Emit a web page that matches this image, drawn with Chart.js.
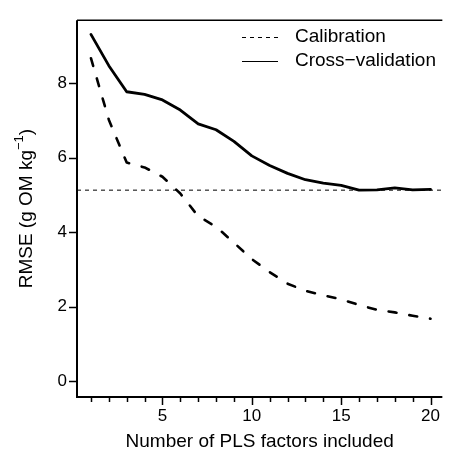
<!DOCTYPE html>
<html>
<head>
<meta charset="utf-8">
<script src="https://cdn.jsdelivr.net/npm/chart.js@4.4.1/dist/chart.umd.min.js"></script>
<style>
html, body { margin: 0; padding: 0; background: #fff; }
#wrap { width: 449px; height: 450px; }
</style>
</head>
<body>
<div id="wrap"><canvas id="rmse"></canvas></div>
<script>
// data
var factors = [1, 2, 3, 4, 5, 6, 7, 8, 9, 10, 11, 12, 13, 14, 15, 16, 17, 18, 19, 20];
var calibration = [8.67, 7.02, 5.87, 5.74, 5.49, 5.04, 4.43, 4.15, 3.72, 3.28, 2.93, 2.62, 2.43, 2.31, 2.20, 2.05, 1.92, 1.85, 1.76, 1.68];
var crossValidation = [9.31, 8.47, 7.77, 7.70, 7.55, 7.28, 6.91, 6.75, 6.44, 6.05, 5.79, 5.58, 5.41, 5.32, 5.26, 5.13, 5.14, 5.19, 5.14, 5.15];
var minRmse = 5.13;
var yTicks = [0, 2, 4, 6, 8];
var xTicks = [5, 10, 15, 20];
var seriesLabels = ['Calibration', 'Cross\u2212validation'];

var FONT = '"Liberation Sans", Arial, Helvetica, sans-serif';

function pts(vals) {
    return factors.map(function (f, i) { return { x: f, y: vals[i] }; });
}

//! frame, ticks, reference line, legend and y title
var decor = {
    id: 'decor',
    beforeDatasetsDraw: function (chart) {
        var c = chart.ctx, a = chart.chartArea;
        var y = chart.scales.y.getPixelForValue(minRmse);
        c.save();
        c.strokeStyle = '#000';
        c.lineWidth = 1;
        c.setLineDash([4, 4]);
        c.beginPath();
        c.moveTo(a.left, y);
        c.lineTo(a.right, y);
        c.stroke();
        c.restore();
    },
    afterDraw: function (chart) {
        var c = chart.ctx, a = chart.chartArea;
        var xs = chart.scales.x, ys = chart.scales.y;
        c.save();
        c.strokeStyle = '#000';
        c.fillStyle = '#000';
        c.setLineDash([]);
        // box (right side falls off the picture)
        c.lineWidth = 1.5;
        c.beginPath();
        c.moveTo(a.left, a.top);
        c.lineTo(a.right, a.top);
        c.stroke();
        c.lineWidth = 2;
        c.beginPath();
        c.moveTo(a.left, a.top);
        c.lineTo(a.left, a.bottom);
        c.lineTo(a.right, a.bottom);
        c.stroke();
        // tick marks
        c.lineWidth = 1.5;
        yTicks.forEach(function (v) {
            var p = Math.round(ys.getPixelForValue(v)) + 0.5;
            c.beginPath();
            c.moveTo(a.left - 8, p);
            c.lineTo(a.left, p);
            c.stroke();
        });
        factors.forEach(function (v) {
            var p = Math.round(xs.getPixelForValue(v)) + 0.5;
            var len = xTicks.indexOf(v) >= 0 ? 8 : 5;
            c.beginPath();
            c.moveTo(p, a.bottom);
            c.lineTo(p, a.bottom + len);
            c.stroke();
        });
        // legend
        var ds = chart.data.datasets;
        c.font = '19px ' + FONT;
        c.textBaseline = 'middle';
        c.textAlign = 'left';
        [37, 61].forEach(function (ly, i) {
            c.lineWidth = 1;
            c.setLineDash(i === 0 ? [4, 4] : []);
            c.beginPath();
            c.moveTo(242, ly + 0.5);
            c.lineTo(278, ly + 0.5);
            c.stroke();
            c.setLineDash([]);
            c.fillText(ds[i].label, 295, ly);
        });
        // y title with superscript
        var main = 'RMSE (g OM kg', sup = '\u22121', tail = ')';
        c.font = '19px ' + FONT;
        var w1 = c.measureText(main).width, w3 = c.measureText(tail).width;
        c.font = '13px ' + FONT;
        var w2 = c.measureText(sup).width;
        var total = w1 + w2 + w3;
        var cy = (a.top + a.bottom) / 2;
        c.translate(32, cy);
        c.rotate(-Math.PI / 2);
        c.textBaseline = 'alphabetic';
        c.font = '19px ' + FONT;
        c.fillText(main, -total / 2, 0);
        c.font = '13px ' + FONT;
        c.fillText(sup, -total / 2 + w1, -9);
        c.font = '19px ' + FONT;
        c.fillText(tail, -total / 2 + w1 + w2, 0);
        c.restore();
    }
};

document.addEventListener('DOMContentLoaded', function () {
    var ctx = document.getElementById('rmse').getContext('2d');
    new Chart(ctx, {
        type: 'line',
        data: {
            datasets: [
                {
                    label: seriesLabels[0],
                    data: pts(calibration),
                    borderColor: '#000',
                    borderWidth: 2.6,
                    borderDash: [8, 13],
                    borderCapStyle: 'round',
                    borderJoinStyle: 'round',
                    pointRadius: 0,
                    tension: 0,
                    fill: false
                },
                {
                    label: seriesLabels[1],
                    data: pts(crossValidation),
                    borderColor: '#000',
                    borderWidth: 2.8,
                    borderJoinStyle: 'round',
                    borderCapStyle: 'round',
                    pointRadius: 0,
                    tension: 0,
                    fill: false
                }]
        },
        options: {
            responsive: true,
            maintainAspectRatio: false,
            animation: false,
            layout: { padding: { top: 14, right: 0, left: 0, bottom: 0 } },
            plugins: {
                legend: { display: false },
                tooltip: { enabled: false }
            },
            scales: {
                x: {
                    type: 'linear',
                    min: 0.22,
                    max: 20.66,
                    grid: { display: false, drawTicks: false },
                    border: { display: false },
                    afterBuildTicks: function (s) { s.ticks = xTicks.map(function (v) { return { value: v }; }); },
                    afterFit: function (s) { s.height = 53; },
                    ticks: { padding: 9, autoSkip: false, maxRotation: 0, color: '#000', font: { family: FONT, size: 17 } },
                    title: {
                        display: true,
                        text: 'Number of PLS factors included',
                        color: '#000',
                        font: { family: FONT, size: 19 },
                        padding: { top: 0, bottom: -3 }
                    }
                },
                y: {
                    min: -0.42,
                    max: 9.69,
                    grid: { display: false, drawTicks: false },
                    border: { display: false },
                    afterBuildTicks: function (s) { s.ticks = yTicks.map(function (v) { return { value: v }; }); },
                    afterFit: function (s) { s.width = 77; },
                    ticks: { padding: 10, color: '#000', font: { family: FONT, size: 17 } }
                }
            }
        },
        plugins: [decor]
    });
});
</script>
</body>
</html>
